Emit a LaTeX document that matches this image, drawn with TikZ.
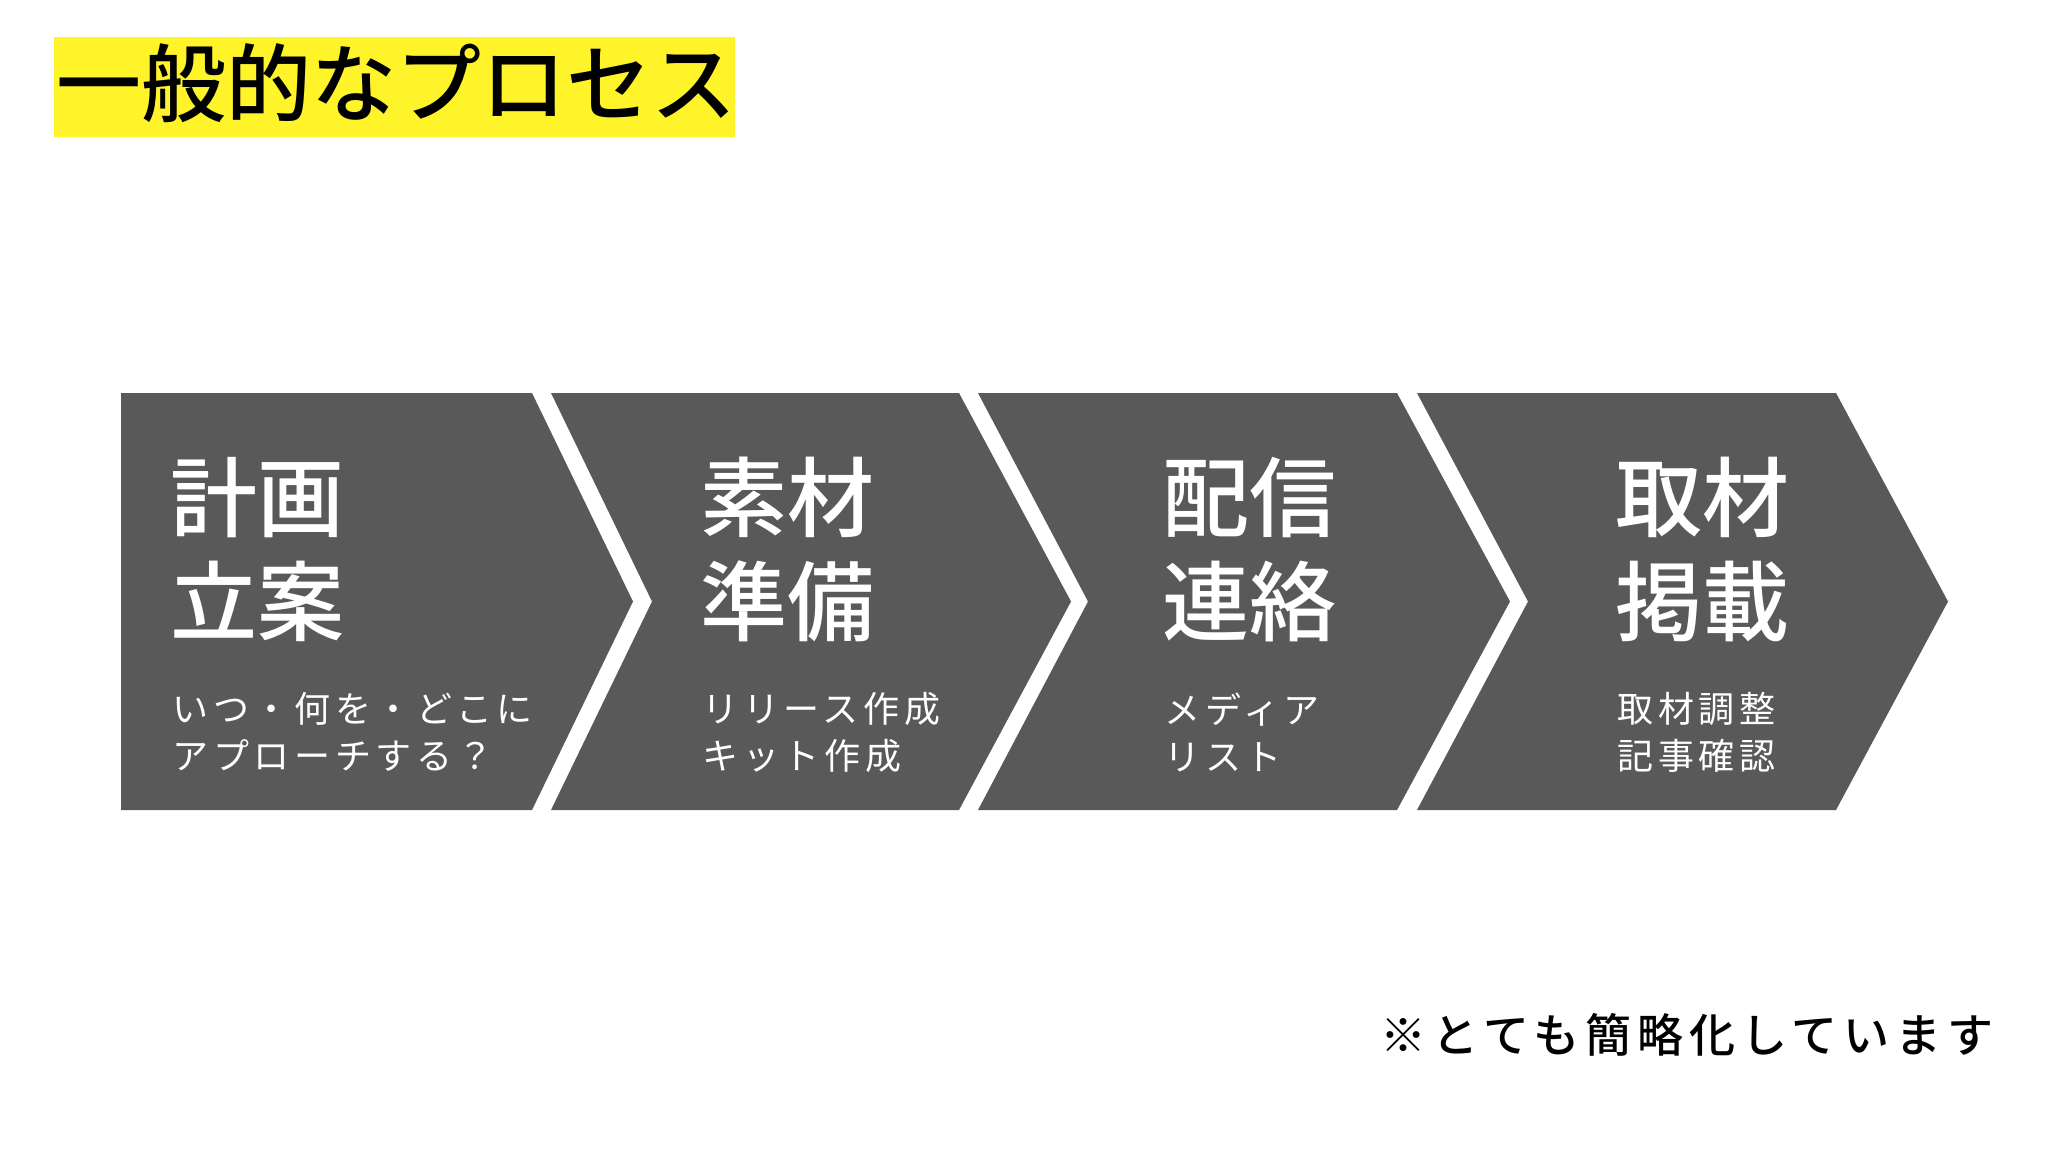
\documentclass[tikz,border=0pt]{standalone}
\usepackage{fontspec}
\newfontfamily\jp{Noto Sans CJK JP}
\newfontfamily\jpm{Noto Sans CJK JP Medium}
\definecolor{chevgray}{HTML}{595959}
\definecolor{titleyellow}{HTML}{FFF32A}
\tikzset{
  chev/.style={fill=chevgray},
  mainlabel/.style={anchor=north west,inner sep=0pt,text=white,align=left,
    font=\jpm\fontsize{43.5}{52}\selectfont},
  sublabel/.style={anchor=north west,inner sep=0pt,text=white,align=left,
    font=\jp\fontsize{18}{23.5}\selectfont\addfontfeature{LetterSpace=13}},
}
\begin{document}
\begin{tikzpicture}[x=0.5pt,y=-0.5pt]
  \useasboundingbox[fill=white] (0,0) rectangle (2048,1152);

  % title
  \fill [titleyellow] (54,37) rectangle (735,137);
  \node [anchor=north west,inner sep=0pt,font=\jpm\fontsize{42.5}{50}\selectfont]
    (title) at (56,43) {一般的なプロセス};

  % chevrons
  \fill [chev] (121,393) -- (532,393) -- (633,601.5) -- (532,810) -- (121,810) -- cycle;
  \fill [chev] (551,393) -- (959,393) -- (1071,601.5) -- (959,810) -- (551,810)
    -- (652,601.5) -- cycle;
  \fill [chev] (978,393) -- (1397,393) -- (1510,601.5) -- (1397,810) -- (978,810)
    -- (1088,601.5) -- cycle;
  \fill [chev] (1417,393) -- (1836,393) -- (1948,601.5) -- (1836,810) -- (1417,810)
    -- (1528,601.5) -- cycle;

  % labels
  \node [mainlabel] (plan) at (170,457) {計画\\立案};
  \node [sublabel] (plansub) at (172,692) {いつ・何を・どこに\\アプローチする？};
  \node [mainlabel] (prep) at (700,457) {素材\\準備};
  \node [sublabel] (prepsub) at (702,692) {リリース作成\\キット作成};
  \node [mainlabel] (send) at (1162,457) {配信\\連絡};
  \node [sublabel] (sendsub) at (1164,692) {メディア\\リスト};
  \node [mainlabel] (cover) at (1615,457) {取材\\掲載};
  \node [sublabel] (coversub) at (1617,692) {取材調整\\記事確認};

  % footnote
  \node [anchor=north east,inner sep=0pt,
    font=\jpm\fontsize{23}{28}\selectfont\addfontfeature{LetterSpace=13}]
    (note) at (1994,1013) {※とても簡略化しています};
\end{tikzpicture}
\end{document}
